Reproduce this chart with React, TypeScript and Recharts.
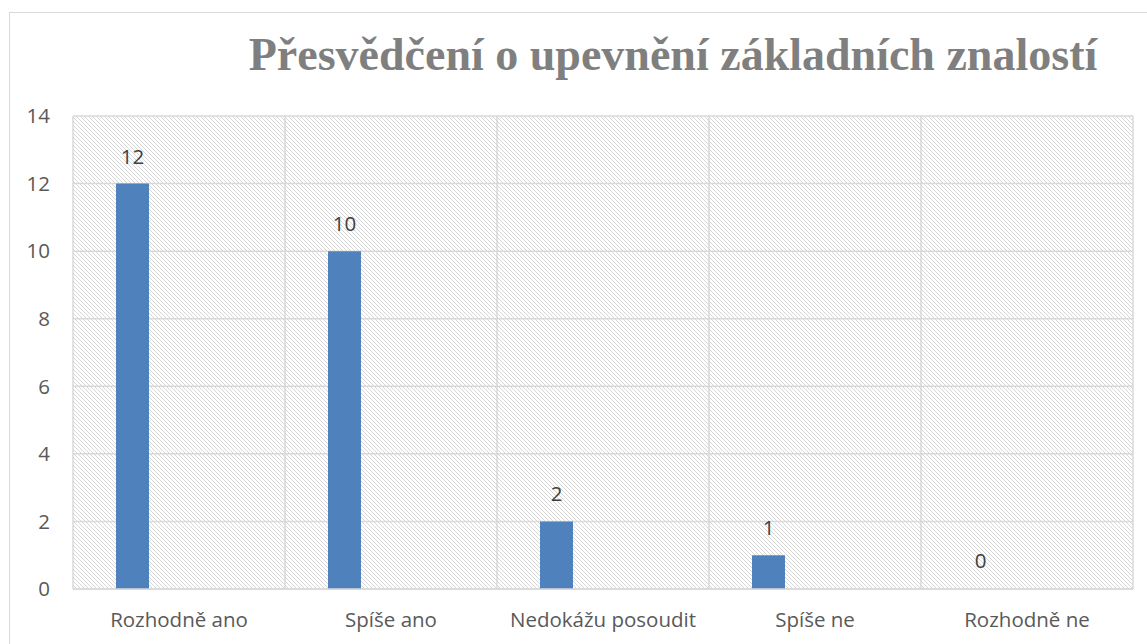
import { BarChart, Bar, XAxis, YAxis, CartesianGrid, LabelList, Rectangle } from "recharts";

const categories = ["Rozhodně ano", "Spíše ano", "Nedokážu posoudit", "Spíše ne", "Rozhodně ne"];
const answers = [12, 10, 2, 1, 0];
// the original sheet keeps a second, empty series next to the answers
const emptySeries = [null, null, null, null, null];
const yTicks = [0, 2, 4, 6, 8, 10, 12, 14];
const gridTicks = [0, 1, 2, 3, 4, 5];

const data = categories.map((name, i) => ({
  name,
  pos: i + 0.5,
  answers: answers[i],
  empty: emptySeries[i],
}));

const GRID = "#d9d9d9";
const TICK_FONT = "'Open Sans', 'Noto Sans', sans-serif";

// zero bars get a 1px min size so their label is still placed, but are not drawn
function AnswerBar(props: any) {
  if (!props.value) return null;
  return <Rectangle {...props} />;
}

export default function App() {
  return (
    <div style={{ position: "absolute", left: 0, top: 0, width: 1147, height: 644, overflow: "hidden", background: "#fff" }}>
      <div
        style={{
          position: "absolute",
          left: 9,
          top: 12,
          width: 1200,
          height: 700,
          border: "1px solid #d9d9d9",
        }}
      />
      <div
        style={{
          position: "absolute",
          left: 0,
          top: 30,
          width: 1346,
          textAlign: "center",
          fontFamily: "'Liberation Serif', serif",
          fontWeight: "bold",
          fontSize: 46,
          color: "#7f7f7f",
          lineHeight: "50px",
          whiteSpace: "nowrap",
        }}
      >
        Přesvědčení o upevnění základních znalostí
      </div>
      <div style={{ position: "absolute", left: 0, top: 0 }}>
        <BarChart
          width={1147}
          height={644}
          data={data}
          margin={{ top: 116, right: 14, bottom: 15, left: 0 }}
          barSize={33}
          barGap={60}
        >
          <defs>
            <pattern id="hatch" patternUnits="userSpaceOnUse" width={4} height={4}>
              <rect width={4} height={4} fill="#fff" />
              <path d="M-1,-1 L5,5 M-1,3 L1,5 M3,-1 L5,1" stroke="#d6d6d6" strokeWidth={1} />
            </pattern>
          </defs>
          <CartesianGrid
            xAxisId="grid"
            stroke={GRID}
            strokeWidth={1.5}
            fill="url(#hatch)"
            fillOpacity={1}
          />
          <XAxis
            xAxisId="grid"
            type="number"
            dataKey="pos"
            domain={[0, 5]}
            ticks={gridTicks}
            hide
          />
          <XAxis
            dataKey="name"
            height={40}
            axisLine={{ stroke: GRID, strokeWidth: 1.5 }}
            tickLine={false}
            tickMargin={17}
            tick={{ fill: "#595959", fontSize: 20.5, fontFamily: TICK_FONT }}
            interval={0}
          />
          <YAxis
            width={73}
            domain={[0, 14]}
            ticks={yTicks}
            axisLine={false}
            tickLine={false}
            tickMargin={17}
            tick={{ fill: "#595959", fontSize: 20.5, fontFamily: TICK_FONT }}
          />
          <Bar
            dataKey="answers"
            fill="#4f81bd"
            minPointSize={1}
            shape={AnswerBar}
            isAnimationActive={false}
          >
            <LabelList
              dataKey="answers"
              position="top"
              offset={20}
              fill="#404040"
              fontSize={20.5}
              fontFamily={TICK_FONT}
            />
          </Bar>
          <Bar dataKey="empty" fill="#c0504d" isAnimationActive={false} />
        </BarChart>
      </div>
    </div>
  );
}
